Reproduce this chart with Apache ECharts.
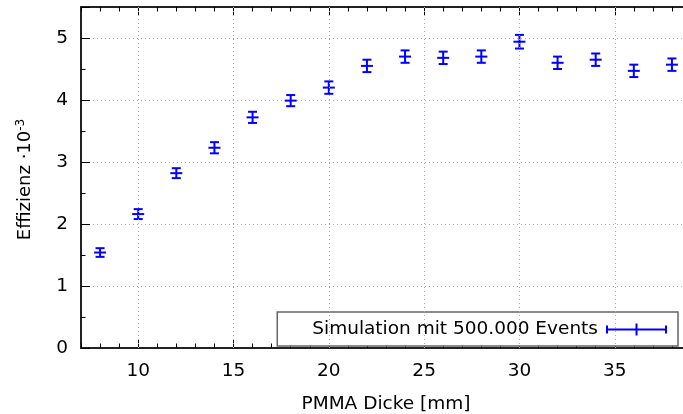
<!DOCTYPE html>
<html>
<head>
<meta charset="utf-8">
<script src="https://cdn.jsdelivr.net/npm/echarts@6/dist/echarts.min.js"></script>
<style>html,body{margin:0;padding:0;background:#fff}#c{width:683px;height:414px}</style>
</head>
<body>
<div id="c"></div>
<script>
const thickness = [8, 10, 12, 14, 16, 18, 20, 22, 24, 26, 28, 30, 32, 34, 36, 38];
const efficiency = [1.54, 2.16, 2.82, 3.23, 3.72, 3.99, 4.20, 4.55, 4.70, 4.68, 4.70, 4.94, 4.60, 4.65, 4.47, 4.57];
const errors = [0.07, 0.08, 0.08, 0.09, 0.09, 0.09, 0.10, 0.10, 0.10, 0.10, 0.10, 0.11, 0.10, 0.10, 0.10, 0.10];
const xMajorTicks = [10, 15, 20, 25, 30, 35];
const legendLabel = 'Simulation mit 500.000 Events';

const FONT = 'DejaVu Sans';
const FS = 18.5;
const BLUE = '#0000ff';
const data = thickness.map((x, i) => [x, efficiency[i], errors[i]]);

const chart = echarts.init(document.getElementById('c'), null, {renderer: 'canvas'});

const minorX = {
  type: 'value', min: 7, max: 39, interval: 1,
  axisLine: {show: false},
  splitLine: {show: false},
  axisLabel: {show: false},
  axisTick: {show: true, inside: true, length: 4.5, lineStyle: {color: '#000', width: 1}}
};

const option = {
  animation: false,
  backgroundColor: '#fff',
  textStyle: {fontFamily: FONT},
  grid: {left: 81, right: -8, top: 7, bottom: 66, containLabel: false, outerBoundsMode: 'none'},
  xAxis: [
    {
      type: 'value', min: 7, max: 39, position: 'bottom',
      name: 'PMMA Dicke [mm]', nameLocation: 'middle', nameGap: 47,
      nameTextStyle: {fontFamily: FONT, fontSize: FS, color: '#000'},
      axisLine: {show: true, onZero: false, lineStyle: {color: '#222', width: 2}},
      axisTick: {show: true, inside: true, length: 9, customValues: xMajorTicks, lineStyle: {color: '#000', width: 1}},
      axisLabel: {show: true, customValues: xMajorTicks, margin: 14, fontFamily: FONT, fontSize: FS, color: '#000'},
      splitLine: {show: false}
    },
    Object.assign({}, minorX, {position: 'bottom'}),
    Object.assign({}, minorX, {position: 'top', axisLine: {show: true, lineStyle: {color: '#222', width: 2}}}),
    Object.assign({}, minorX, {position: 'top',
      axisTick: {show: true, inside: true, length: 9, customValues: xMajorTicks, lineStyle: {color: '#000', width: 1}}})
  ],
  yAxis: [{
    type: 'value', min: 0, max: 5.5, interval: 1,
    name: 'Effizienz ·10{sup|-3}', nameLocation: 'middle', nameGap: 45, nameRotate: 90,
    nameTextStyle: {fontFamily: FONT, fontSize: 18, color: '#000', padding: [0, 4, 0, 0],
      rich: {sup: {fontFamily: FONT, fontSize: 12, color: '#000', verticalAlign: 'top', padding: [0, 0, 9, 0]}}},
    axisLine: {show: true, lineStyle: {color: '#222', width: 2}},
    axisTick: {show: true, inside: true, length: 9, lineStyle: {color: '#000', width: 1}},
    minorTick: {show: true, splitNumber: 2, length: 4.5, lineStyle: {color: '#000', width: 1}},
    axisLabel: {margin: 13, fontFamily: FONT, fontSize: FS, color: '#000', showMaxLabel: false},
    splitLine: {show: true, lineStyle: {color: '#aaa', width: 1, type: [1, 3]}}
  }],
  legend: {
    data: [legendLabel],
    right: 5, top: 312,
    align: 'right',
    itemWidth: 61, itemHeight: 12, itemGap: 0,
    padding: [8, 11, 7, 35],
    borderColor: '#666', borderWidth: 1.5, backgroundColor: '#fff',
    textStyle: {fontFamily: FONT, fontSize: FS, color: '#000', padding: [0, 3, 0, 0]},
    icon: 'path://M0,5h61v2h-61z M0,2h2v8h-2z M59,2h2v8h-2z M29.5,0h2v12h-2z'
  },
  series: [
    {
      type: 'line', xAxisIndex: 0, yAxisIndex: 0, data: [], silent: true,
      markLine: {
        silent: true, symbol: 'none', label: {show: false},
        lineStyle: {color: '#aaa', width: 1, type: [1, 3]},
        data: xMajorTicks.map(v => ({xAxis: v}))
      }
    },
    {
      name: legendLabel,
      type: 'custom', xAxisIndex: 0, yAxisIndex: 0,
      itemStyle: {color: BLUE},
      data: data,
      encode: {x: 0, y: 1},
      renderItem: function (params, api) {
        const x = api.value(0), y = api.value(1), e = api.value(2);
        const c = api.coord([x, y]);
        const hi = api.coord([x, y + e]);
        const lo = api.coord([x, y - e]);
        const st = {stroke: BLUE, lineWidth: 2};
        return {
          type: 'group', children: [
            {type: 'line', shape: {x1: c[0], y1: hi[1], x2: c[0], y2: lo[1]}, style: st},
            {type: 'line', shape: {x1: c[0] - 4.5, y1: hi[1], x2: c[0] + 4.5, y2: hi[1]}, style: st},
            {type: 'line', shape: {x1: c[0] - 4.5, y1: lo[1], x2: c[0] + 4.5, y2: lo[1]}, style: st},
            {type: 'line', shape: {x1: c[0] - 6, y1: c[1], x2: c[0] + 6, y2: c[1]}, style: st}
          ]
        };
      }
    }
  ]
};
chart.setOption(option);
</script>
</body>
</html>
